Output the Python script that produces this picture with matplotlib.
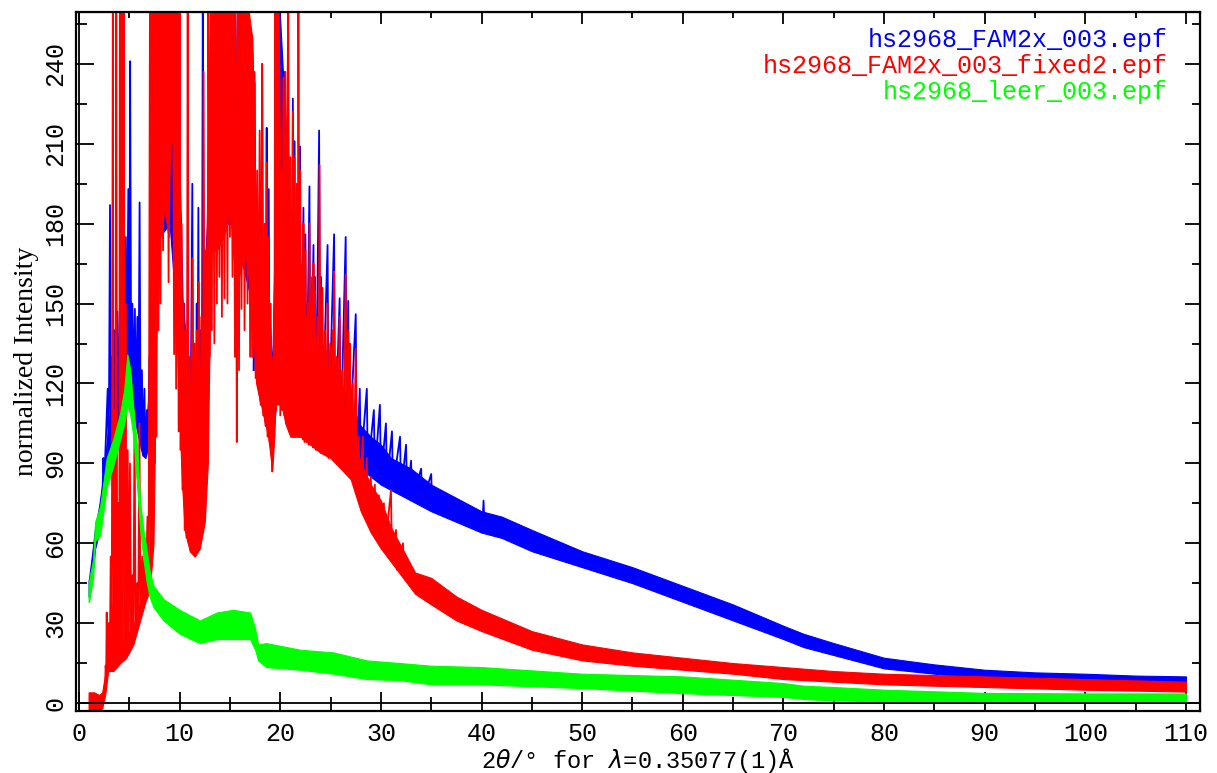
import numpy as np
import matplotlib
matplotlib.use("Agg")
import matplotlib.pyplot as plt
from matplotlib.ticker import MultipleLocator

nan = np.nan

# ---- green: hs2968_leer_003 (noise band) ----
green_x = [0.95, 1.0, 1.4, 1.6, 2.1, 2.75, 3.4, 4.1, 4.5, 4.8, 5.1, 5.4, 5.8, 6.06, 6.4, 6.7,
           7.0, 7.4, 8.4, 10.0, 12.0, 13.7, 15.3, 17.0, 17.5, 17.8, 18.6, 22.0, 25.3, 28.6,
           31.9, 35.0, 40.0, 50.0, 60.0, 70.0, 72.0, 75.0, 80.0, 90.0, 100.0, 110.0]
green_lo = [38, 38, 47, 61, 63, 81, 89, 99, 105, 112, 108, 100, 80, 66, 54, 46,
            40, 36, 31, 26, 22.5, 24, 24, 24, 20, 16, 13.5, 12.5, 11, 9,
            8.6, 7, 7, 5.6, 3.7, 2.3, 1.5, 1, 0.5, 0.5, 0.5, 0.5]
green_hi = [44, 46, 54, 68, 74, 92, 99, 109, 118, 131, 125, 111, 95, 76, 65, 58,
            50, 44, 39, 35, 31, 34, 35, 34, 28, 22, 22.5, 20, 19, 16,
            15, 14, 13.5, 11, 10, 7.5, 6.5, 6, 5, 3.8, 3.6, 3.6]

# ---- blue: hs2968_FAM2x_003 ----
blue_x = [0.95, 1.0, 1.3, 1.6, 2.0, 2.5, 2.8, 3.2, 3.6, 4.0, 4.5, 4.9, 5.2, 5.6, 6.0, 6.3,
          6.6, 6.8, 7.0, 7.3, 7.6, 8.0, 9.0, 9.6, 10.0, 10.3, 10.8, 11.5, 12.2, 12.7, 13.1,
          15.5, 15.7, 15.9, 17.2, 17.6, 18.2, 18.8, 19.2, 19.4, 19.8, 20.5, 21.0, 22.0,
          23.0, 24.0, 25.0, 26.0, 27.0, 28.0, 29.0, 30.0, 31.0, 33.0, 35.0, 37.5, 40.0,
          42.0, 45.0, 50.0, 55.0, 60.0, 65.0, 70.0, 72.0, 75.0, 80.0, 85.0, 90.0, 95.0,
          100.0, 105.0, 110.0]
blue_lo = [40, 40, 47, 58, 64, 78, 85, 95, 100, 105, 115, 125, 118, 105, 98, 93,
           92, 95, 100, 110, 130, 175, 180, 150, 115, 95, 88, 85, 88, 100, 180,
           180, 130, 170, 150, 125, 115, 105, 95, 105, 120, 112, 105, 104,
           102, 100, 98, 95, 92, 88, 85, 82, 80, 76, 72, 68, 64,
           62, 57, 51, 45, 38, 31, 24, 21, 18, 13, 11, 9, 8,
           7.5, 7.2, 7]
blue_hi = [46, 47, 56, 66, 74, 88, 100, 112, 118, 125, 135, 142, 135, 122, 115, 105,
           104, 110, 120, 150, 270, 270, 270, 270, 200, 150, 130, 125, 130, 180, 270,
           270, 200, 270, 250, 180, 165, 155, 125, 165, 270, 220, 185, 155,
           145, 135, 130, 120, 112, 104, 100, 97, 92, 88, 82, 77, 72,
           70, 65, 57, 51, 44, 37, 29, 26, 22.5, 17, 14.5, 12.5, 11.5,
           11, 10.3, 10]

blue_spk_x = [2.35, 2.42, 2.5, 2.85, 2.95, 3.08, 3.18, 3.3, 3.4, 3.55, 3.65, 3.8, 3.9, 4.05,
              4.15, 4.4, 4.5, 4.65, 4.75, 4.9, 5.0, 5.08, 5.18, 5.3, 5.4, 5.55, 5.65, 5.8,
              5.9, 6.02, 6.12, 6.25, 6.35, 6.5, 6.6, 6.75, 6.85, 7.0, 7.1, nan,
              10.3, 10.45, 10.55, 10.7, 10.8, 10.93, 11.05, 11.26, 11.35, 11.5, 11.6, 11.7,
              11.75, 11.86, 11.95, 12.1, 12.2, 12.3, 12.4, 12.5, 12.6, nan,
              17.35, 17.45, 17.55, 18.1, 18.2, 18.3, 18.55, 18.65, 18.7, 18.85, 18.95, nan,
              20.0, 20.1, 20.2, 20.4, 20.5, 21.15, 21.25, 21.35, 21.4, 21.5, 21.9, 21.97,
              22.05, 22.3, 22.4, 22.5, 22.6, 22.9, 23.0, 23.3, 23.38, 23.45, 23.55, 23.86,
              23.95, 24.05, 24.15, 24.7, 24.8, 25.35, 25.45, 25.9, 26.0, 26.5, 26.6, 26.75,
              26.85, 27.5, 27.6, 27.9, 28.0, 28.6, 28.7, 29.3, 29.4, 29.9, 30.0, 30.5,
              30.6, 31.1, 31.2, 31.9, 32.0, 32.5, 32.6, 33.0, 33.1, 34.0, 34.1, 35.0, 35.1,
              40.1, 40.2, 40.3]
blue_spk_y = [80, 92, 82, 118, 90, 187, 96, 130, 100, 140, 102, 147, 104, 148,
              106, 150, 115, 175, 122, 193, 128, 241, 125, 150, 118, 148, 110, 145,
              104, 188, 100, 125, 95, 118, 93, 110, 95, 130, 110, nan,
              95, 150, 92, 130, 88, 118, 86, 195, 86, 130, 86, 150,
              87, 186, 88, 140, 90, 270, 95, 150, 100, nan,
              125, 233, 125, 112, 240, 112, 105, 216, 105, 193, 100, nan,
              112, 235, 112, 237, 110, 105, 227, 105, 211, 104, 104, 209,
              104, 186, 103, 176, 103, 194, 102, 172, 102, 160, 101, 215,
              100, 160, 100, 172, 99, 176, 98, 152, 96, 175, 95, 151,
              94, 146, 90, 118, 89, 118, 87, 110, 86, 112, 84, 105,
              83, 102, 81, 100, 79, 97, 78, 91, 77, 88, 75, 86, 73,
              68, 76, 66]

# ---- red: hs2968_FAM2x_003_fixed2 ----
red_x = [0.95, 1.0, 1.5, 2.0, 2.3, 2.6, 2.9, 3.4, 4.1, 4.7, 5.4, 6.0, 6.6, 7.0, 7.2,
         7.4, 7.55, 7.7, 8.0, 8.5, 8.9, 9.05, 9.4, 9.6, 9.9, 10.2, 10.5, 11.0, 11.5,
         12.0, 12.5, 12.8, 13.1, 13.7, 14.4, 15.0, 15.5, 15.7, 15.9, 16.5, 17.2, 17.6,
         18.2, 18.8, 19.2, 19.4, 19.6, 19.8, 20.0, 20.5, 21.0, 21.5, 22.0, 23.0, 24.0,
         25.0, 26.0, 27.0, 27.5, 28.0, 29.0, 30.0, 31.0, 33.4, 35.0, 37.5, 40.0, 45.0,
         50.0, 55.0, 60.0, 65.0, 70.0, 75.0, 80.0, 90.0, 100.0, 110.0]
red_lo = [-3, -3, -3, -3, -2, 3, 12, 12, 15, 17, 22, 30, 38, 42, 50,
          60, 100, 150, 175, 185, 175, 210, 210, 150, 115, 85, 65, 57, 55,
          58, 68, 90, 170, 170, 175, 185, 160, 130, 160, 170, 150, 120,
          110, 100, 87, 100, 120, 125, 115, 105, 100, 100, 100, 97, 94,
          92, 88, 84, 78, 72, 64, 58, 53, 41, 37, 31, 27, 20,
          16, 14, 12.5, 11, 9, 8, 7, 6, 5, 4.3]
red_hi = [4, 4, 4, 3, 4, 11, 18, 19, 21, 25, 29, 37, 44, 50, 60,
          100, 270, 270, 270, 270, 270, 270, 270, 270, 200, 140, 120, 118, 115,
          120, 135, 200, 270, 270, 270, 270, 270, 200, 270, 270, 250, 175,
          165, 155, 120, 160, 270, 270, 200, 200, 180, 165, 150, 140, 130,
          125, 115, 105, 98, 90, 82, 76, 66, 49, 47, 40, 35, 27,
          22, 19, 17, 15, 13.5, 12, 11, 10, 9, 8]

red_spk_x = [2.6, 2.64, 2.7, 2.75, 2.82, 2.95, 3.05, 3.15, 3.25, 3.36, 3.46, 3.56, 3.62,
             3.7, 3.8, 3.92, 4.0, 4.06, 4.14, 4.24, 4.33, 4.44, 4.54, 4.62, 4.72, 4.84,
             4.95, 5.06, 5.18, 5.3, 5.4, 5.52, 5.62, 5.78, 5.88, 6.0, 6.1, 6.28, 6.38,
             6.52, 6.62, 6.8, 6.92, 7.05, 7.13, 7.22, 7.3, 7.42, 7.5,
             7.6, 7.7, 7.8, 7.9, 8.0, 8.1, 8.2, 8.35, 8.5, 8.65, 8.8, 8.9, 9.0, 9.1,
             9.3, 9.45, 9.55, 9.65, 9.8, 9.9,
             10.0, 10.1, 10.2, 10.3, 10.4, 10.5, 10.6, 10.7, 10.8, 10.9, 11.0, 11.1,
             11.27, 11.4, 11.5, 11.6, 11.7, 11.8, 11.9, 12.0, 12.15, 12.3, 12.38, 12.5,
             12.6, 12.75, 12.85, 13.0,
             13.1, 13.2, 13.3, 13.45, 13.55, 13.7, 13.8, 13.95, 14.05, 14.2, 14.3, 14.45,
             14.6, 14.75, 14.85, 15.0, 15.1, 15.25, 15.35, 15.5, 15.6, 15.68, 15.8, 15.9,
             16.0, 16.15, 16.3, 16.45, 16.6, 16.75, 16.9, 17.0, 17.1, 17.2,
             17.3, 17.45, 17.55, 17.7, 17.8, 17.95, 18.05, 18.2, 18.3, 18.45, 18.55,
             18.65, 18.75, 18.85, 18.95, 19.05, 19.18, 19.3, 19.4, 19.5, 19.6, 19.7,
             19.8, 19.9, 20.0, 20.1,
             20.2, 20.3, 20.4, 20.5, 20.6, 20.7, 20.8, 20.9, 21.0, 21.1, 21.25, 21.35,
             21.4, 21.5, 21.65, 21.75, 21.8, 21.9, 21.97, 22.05, 22.15, 22.25, 22.3, 22.4,
             22.5, 22.6, 22.75, 22.82, 22.9, 23.0, 23.15, 23.25, 23.3, 23.4, 23.45, 23.55,
             23.7, 23.8, 23.9, 24.0, 24.2, 24.3, 24.45, 24.55, 24.7, 24.8, 24.95, 25.05,
             25.2, 25.3, 25.35, 25.45, 25.6, 25.7, 25.9, 26.0, 26.15, 26.25, 26.5, 26.6,
             26.75, 26.85, 26.9, 27.0, 27.2, 27.3, 27.5, 27.6, 27.8, 27.9, 28.2, 28.3,
             28.6, 28.7, 29.0, 29.1, 29.4, 29.5, 29.8, 29.9, 30.3, 30.4, 31.0, 31.1,
             31.5, 31.6, 32.2, 32.3]
red_spk_y = [5, 14, 12, 34, 14, 30, 14, 55, 15, 270, 15, 110, 16,
             270, 17, 75, 17, 270, 18, 270, 19, 270, 20, 150, 21, 95,
             22, 90, 24, 48, 25, 110, 27, 45, 30, 105, 32, 55, 36,
             62, 39, 70, 43, 270, 48, 270, 58, 270, 90,
             270, 100, 270, 140, 270, 150, 270, 170, 270, 200, 270, 158, 270, 204,
             270, 131, 270, 118, 270, 102,
             270, 95, 180, 80, 150, 65, 140, 62, 270, 60, 130, 58,
             167, 56, 135, 57, 140, 58, 158, 60, 145, 64, 237, 70,
             170, 90, 270, 130,
             270, 140, 270, 135, 270, 150, 270, 160, 270, 145, 270, 152,
             270, 150, 270, 175, 270, 160, 270, 130, 200, 98, 270, 125,
             270, 148, 270, 140, 270, 150, 270, 130, 250, 130,
             130, 237, 122, 200, 118, 215, 112, 240, 108, 180, 104,
             203, 100, 175, 98, 150, 87, 130, 100, 270, 110, 270,
             112, 200, 108, 190,
             110, 235, 108, 237, 105, 215, 270, 102, 205, 101, 222, 100,
             205, 100, 195, 100, 270, 100, 200, 100, 165, 99, 180, 98,
             170, 98, 150, 97, 180, 97, 160, 96, 165, 96, 155, 95,
             145, 95, 202, 94, 156, 94, 140, 93, 150, 92, 135, 92,
             140, 91, 162, 91, 130, 90, 145, 89, 125, 88, 161, 87,
             140, 86, 135, 85, 120, 82, 133, 78, 100, 75, 100, 72,
             92, 68, 85, 65, 82, 62, 78, 60, 75, 57, 80, 54,
             65, 50, 60, 47]

legend_names = ["hs2968_FAM2x_003.epf", "hs2968_FAM2x_003_fixed2.epf", "hs2968_leer_003.epf"]
colors = ["#0000ff", "#ff0000", "#00ff00"]

fig = plt.figure(figsize=(12.17, 7.73), dpi=100)
ax = fig.add_axes([75.5 / 1217, 1 - 711 / 773, (1200 - 75.5) / 1217, (711 - 12) / 773])

lw = 1.3
# blue first, then red, green on top
ax.fill_between(blue_x, blue_lo, blue_hi, color=colors[0], lw=0.8, edgecolor=colors[0], zorder=2.0)
ax.plot(blue_spk_x, blue_spk_y, color=colors[0], lw=lw, zorder=2.1)
ax.fill_between(red_x, red_lo, red_hi, color=colors[1], lw=0.8, edgecolor=colors[1], zorder=2.2)
ax.plot(red_spk_x, red_spk_y, color=colors[1], lw=lw, zorder=2.3)
ax.fill_between(green_x, green_lo, green_hi, color=colors[2], lw=0.8, edgecolor=colors[2], zorder=2.4)

ax.axhline(0, color="black", lw=1.3, zorder=5)
ax.axvline(0, color="black", lw=1.3, zorder=5)

ax.set_xlim(-0.35, 111.4)
ax.set_ylim(-3.0, 259.5)

for s in ax.spines.values():
    s.set_linewidth(1.6)

ax.xaxis.set_major_locator(MultipleLocator(10))
ax.xaxis.set_minor_locator(MultipleLocator(5))
ax.yaxis.set_major_locator(MultipleLocator(30))
ax.yaxis.set_minor_locator(MultipleLocator(15))
ax.tick_params(axis="x", which="major", direction="in", length=14, width=1.3, pad=8)
ax.tick_params(axis="x", which="minor", direction="in", length=10, width=1.3)
ax.tick_params(axis="y", which="major", direction="in", length=13, width=1.3, pad=6)
ax.tick_params(axis="y", which="minor", direction="in", length=8, width=1.3)

mono = "Liberation Mono"
for lab in ax.get_xticklabels():
    lab.set_fontfamily(mono)
    lab.set_fontsize(18)
for lab in ax.get_yticklabels():
    lab.set_fontfamily(mono)
    lab.set_fontsize(18)
    lab.set_rotation(90)
    lab.set_va("center")

top = ax.secondary_xaxis("top")
top.xaxis.set_major_locator(MultipleLocator(10))
top.xaxis.set_minor_locator(MultipleLocator(5))
top.tick_params(which="major", direction="in", length=8.5, width=1.3, labeltop=False)
top.tick_params(which="minor", direction="in", length=4.5, width=1.3)
right = ax.secondary_yaxis("right")
right.yaxis.set_major_locator(MultipleLocator(30))
right.yaxis.set_minor_locator(MultipleLocator(15))
right.tick_params(which="major", direction="in", length=10.5, width=1.3, labelright=False)
right.tick_params(which="minor", direction="in", length=6, width=1.3)

ax.set_xlabel(r"2$\theta$/° for $\lambda$=0.35077(1)Å", fontfamily=mono, fontsize=17, labelpad=0)
ax.set_ylabel("normalized Intensity", fontfamily="Liberation Serif", fontsize=20, labelpad=3)

for i, (name, c) in enumerate(zip(legend_names, colors)):
    ax.text(0.9715, 0.96 - i * 0.0372, name, color=c, fontfamily=mono, fontsize=18,
            ha="right", va="center", transform=ax.transAxes)

fig.savefig("out.png", dpi=100)
